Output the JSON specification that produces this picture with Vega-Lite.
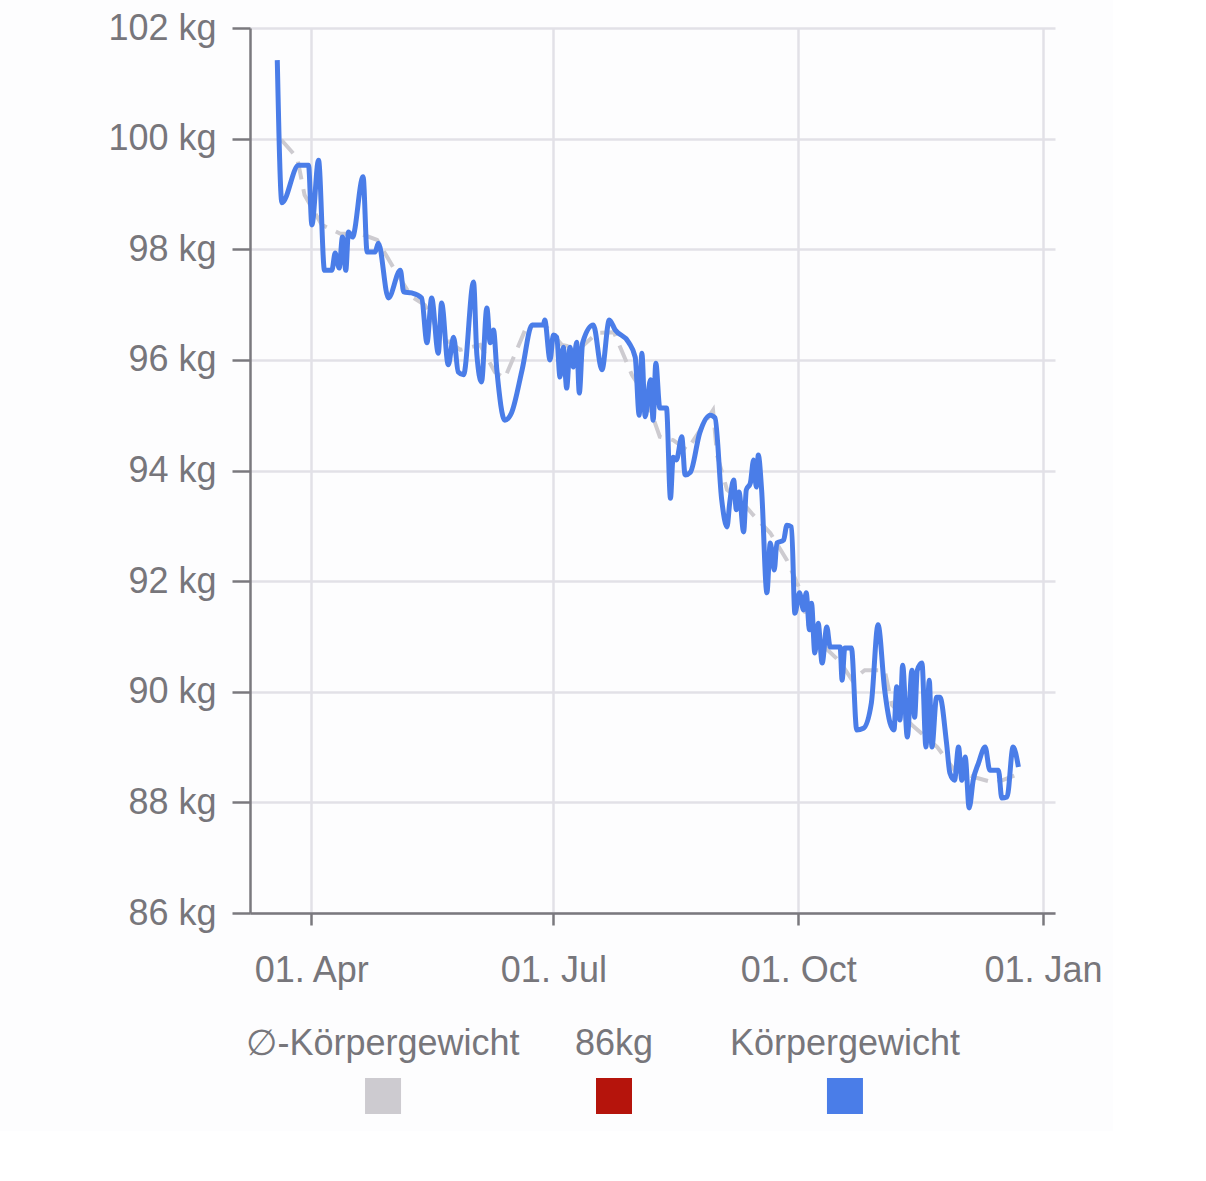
{
  "$schema": "https://vega.github.io/schema/vega-lite/v6.json",
  "background": "#fdfdfe",
  "padding": {"left": 107, "top": 10, "right": 10, "bottom": 10},
  "config": {
    "font": "Liberation Sans",
    "view": {"stroke": null},
    "axis": {
      "title": null,
      "labelFontSize": 36,
      "labelColor": "#77767b",
      "tickColor": "#7a797e",
      "tickWidth": 2.5,
      "domainColor": "#7a797e",
      "domainWidth": 2.5,
      "grid": true,
      "gridColor": "#e2e1e7",
      "gridWidth": 2.5
    }
  },
  "datasets": {
    "weight": [
      {"date": "2023-03-19T06:00", "kg": 101.42},
      {"date": "2023-03-21T00:00", "kg": 98.84},
      {"date": "2023-03-27T06:00", "kg": 99.52},
      {"date": "2023-03-31T00:00", "kg": 99.52},
      {"date": "2023-04-01T06:00", "kg": 98.44},
      {"date": "2023-04-03T18:00", "kg": 99.61},
      {"date": "2023-04-06T00:00", "kg": 97.62},
      {"date": "2023-04-08T18:00", "kg": 97.62},
      {"date": "2023-04-10T00:00", "kg": 97.93},
      {"date": "2023-04-11T12:00", "kg": 97.66},
      {"date": "2023-04-12T18:00", "kg": 98.22},
      {"date": "2023-04-14T00:00", "kg": 97.62},
      {"date": "2023-04-15T00:00", "kg": 98.31},
      {"date": "2023-04-16T12:00", "kg": 98.22},
      {"date": "2023-04-20T12:00", "kg": 99.31},
      {"date": "2023-04-22T00:00", "kg": 97.95},
      {"date": "2023-04-25T00:00", "kg": 97.95},
      {"date": "2023-04-26T06:00", "kg": 98.11},
      {"date": "2023-04-30T00:00", "kg": 97.12},
      {"date": "2023-05-04T12:00", "kg": 97.62},
      {"date": "2023-05-05T18:00", "kg": 97.23},
      {"date": "2023-05-08T18:00", "kg": 97.21},
      {"date": "2023-05-12T12:00", "kg": 97.12},
      {"date": "2023-05-14T12:00", "kg": 96.31},
      {"date": "2023-05-16T06:00", "kg": 97.12},
      {"date": "2023-05-18T18:00", "kg": 96.12},
      {"date": "2023-05-20T00:00", "kg": 97.03},
      {"date": "2023-05-22T12:00", "kg": 95.91},
      {"date": "2023-05-24T12:00", "kg": 96.41},
      {"date": "2023-05-26T06:00", "kg": 95.78},
      {"date": "2023-05-28T06:00", "kg": 95.73},
      {"date": "2023-06-01T00:00", "kg": 97.41},
      {"date": "2023-06-02T06:00", "kg": 96.09},
      {"date": "2023-06-04T00:00", "kg": 95.6},
      {"date": "2023-06-06T00:00", "kg": 96.94},
      {"date": "2023-06-07T06:00", "kg": 96.31},
      {"date": "2023-06-08T12:00", "kg": 96.54},
      {"date": "2023-06-09T18:00", "kg": 95.82},
      {"date": "2023-06-12T18:00", "kg": 94.91},
      {"date": "2023-06-15T06:00", "kg": 95.04},
      {"date": "2023-06-19T06:00", "kg": 95.82},
      {"date": "2023-06-23T00:00", "kg": 96.63},
      {"date": "2023-06-27T06:00", "kg": 96.63},
      {"date": "2023-06-27T18:00", "kg": 96.72},
      {"date": "2023-06-29T18:00", "kg": 96.0},
      {"date": "2023-07-01T00:00", "kg": 96.45},
      {"date": "2023-07-02T06:00", "kg": 96.41},
      {"date": "2023-07-03T12:00", "kg": 95.69},
      {"date": "2023-07-04T18:00", "kg": 96.23},
      {"date": "2023-07-06T00:00", "kg": 95.49},
      {"date": "2023-07-07T06:00", "kg": 96.23},
      {"date": "2023-07-08T12:00", "kg": 95.87},
      {"date": "2023-07-09T18:00", "kg": 96.32},
      {"date": "2023-07-10T18:00", "kg": 95.4},
      {"date": "2023-07-12T00:00", "kg": 96.31},
      {"date": "2023-07-16T00:00", "kg": 96.63},
      {"date": "2023-07-19T06:00", "kg": 95.82},
      {"date": "2023-07-22T00:00", "kg": 96.72},
      {"date": "2023-07-24T06:00", "kg": 96.54},
      {"date": "2023-07-29T06:00", "kg": 96.32},
      {"date": "2023-07-31T18:00", "kg": 96.05},
      {"date": "2023-08-02T06:00", "kg": 95.0},
      {"date": "2023-08-03T06:00", "kg": 96.12},
      {"date": "2023-08-04T12:00", "kg": 94.97},
      {"date": "2023-08-06T12:00", "kg": 95.64},
      {"date": "2023-08-07T12:00", "kg": 94.91},
      {"date": "2023-08-08T12:00", "kg": 95.94},
      {"date": "2023-08-10T00:00", "kg": 95.13},
      {"date": "2023-08-12T12:00", "kg": 95.13},
      {"date": "2023-08-14T00:00", "kg": 93.5},
      {"date": "2023-08-15T00:00", "kg": 94.24},
      {"date": "2023-08-16T06:00", "kg": 94.19},
      {"date": "2023-08-18T06:00", "kg": 94.61},
      {"date": "2023-08-19T12:00", "kg": 93.92},
      {"date": "2023-08-21T12:00", "kg": 93.97},
      {"date": "2023-08-25T00:00", "kg": 94.68},
      {"date": "2023-08-29T00:00", "kg": 95.0},
      {"date": "2023-08-30T18:00", "kg": 94.95},
      {"date": "2023-09-02T06:00", "kg": 93.47},
      {"date": "2023-09-04T06:00", "kg": 92.98},
      {"date": "2023-09-05T06:00", "kg": 93.41},
      {"date": "2023-09-06T18:00", "kg": 93.83},
      {"date": "2023-09-07T18:00", "kg": 93.29},
      {"date": "2023-09-08T18:00", "kg": 93.61},
      {"date": "2023-09-10T12:00", "kg": 92.89},
      {"date": "2023-09-11T12:00", "kg": 93.65},
      {"date": "2023-09-13T00:00", "kg": 93.77},
      {"date": "2023-09-14T06:00", "kg": 94.19},
      {"date": "2023-09-15T06:00", "kg": 93.7},
      {"date": "2023-09-16T00:00", "kg": 94.28},
      {"date": "2023-09-17T06:00", "kg": 93.65},
      {"date": "2023-09-19T06:00", "kg": 91.79},
      {"date": "2023-09-20T12:00", "kg": 92.69},
      {"date": "2023-09-22T00:00", "kg": 92.2},
      {"date": "2023-09-23T00:00", "kg": 92.69},
      {"date": "2023-09-25T12:00", "kg": 92.74},
      {"date": "2023-09-26T18:00", "kg": 93.01},
      {"date": "2023-09-28T12:00", "kg": 92.98},
      {"date": "2023-09-29T18:00", "kg": 91.42},
      {"date": "2023-10-01T12:00", "kg": 91.79},
      {"date": "2023-10-03T00:00", "kg": 91.48},
      {"date": "2023-10-04T00:00", "kg": 91.79},
      {"date": "2023-10-05T06:00", "kg": 91.12},
      {"date": "2023-10-06T00:00", "kg": 91.6},
      {"date": "2023-10-07T06:00", "kg": 90.7},
      {"date": "2023-10-08T12:00", "kg": 91.24},
      {"date": "2023-10-10T00:00", "kg": 90.52},
      {"date": "2023-10-11T18:00", "kg": 91.17},
      {"date": "2023-10-13T00:00", "kg": 90.81},
      {"date": "2023-10-16T18:00", "kg": 90.81},
      {"date": "2023-10-17T12:00", "kg": 90.21},
      {"date": "2023-10-18T12:00", "kg": 90.79},
      {"date": "2023-10-21T00:00", "kg": 90.79},
      {"date": "2023-10-23T00:00", "kg": 89.31},
      {"date": "2023-10-25T12:00", "kg": 89.34},
      {"date": "2023-10-28T12:00", "kg": 89.8},
      {"date": "2023-10-31T00:00", "kg": 91.21},
      {"date": "2023-11-02T12:00", "kg": 90.03},
      {"date": "2023-11-04T12:00", "kg": 89.44},
      {"date": "2023-11-06T00:00", "kg": 89.31},
      {"date": "2023-11-07T00:00", "kg": 90.09},
      {"date": "2023-11-08T06:00", "kg": 89.49},
      {"date": "2023-11-09T06:00", "kg": 90.48},
      {"date": "2023-11-11T00:00", "kg": 89.18},
      {"date": "2023-11-12T18:00", "kg": 90.39},
      {"date": "2023-11-13T18:00", "kg": 89.54},
      {"date": "2023-11-14T18:00", "kg": 90.39},
      {"date": "2023-11-16T12:00", "kg": 90.52},
      {"date": "2023-11-18T00:00", "kg": 89.0},
      {"date": "2023-11-19T06:00", "kg": 90.21},
      {"date": "2023-11-20T06:00", "kg": 89.0},
      {"date": "2023-11-22T00:00", "kg": 89.9},
      {"date": "2023-11-23T06:00", "kg": 89.9},
      {"date": "2023-11-25T18:00", "kg": 89.07},
      {"date": "2023-11-27T00:00", "kg": 88.53},
      {"date": "2023-11-28T18:00", "kg": 88.4},
      {"date": "2023-11-30T06:00", "kg": 89.0},
      {"date": "2023-12-01T12:00", "kg": 88.4},
      {"date": "2023-12-02T18:00", "kg": 88.82},
      {"date": "2023-12-04T06:00", "kg": 87.9},
      {"date": "2023-12-05T18:00", "kg": 88.4},
      {"date": "2023-12-07T18:00", "kg": 88.71},
      {"date": "2023-12-10T06:00", "kg": 89.0},
      {"date": "2023-12-12T00:00", "kg": 88.58},
      {"date": "2023-12-15T06:00", "kg": 88.58},
      {"date": "2023-12-16T12:00", "kg": 88.08},
      {"date": "2023-12-18T12:00", "kg": 88.1},
      {"date": "2023-12-20T18:00", "kg": 89.0},
      {"date": "2023-12-22T18:00", "kg": 88.64}
    ],
    "avg": [
      {"date": "2023-03-20T18:00", "kg": 99.98},
      {"date": "2023-03-26T18:00", "kg": 99.65},
      {"date": "2023-03-29T12:00", "kg": 98.98},
      {"date": "2023-04-05T00:00", "kg": 98.44},
      {"date": "2023-04-12T00:00", "kg": 98.28},
      {"date": "2023-04-19T12:00", "kg": 98.28},
      {"date": "2023-04-25T18:00", "kg": 98.17},
      {"date": "2023-05-02T12:00", "kg": 97.62},
      {"date": "2023-05-08T18:00", "kg": 97.14},
      {"date": "2023-05-13T18:00", "kg": 96.99},
      {"date": "2023-05-19T12:00", "kg": 96.45},
      {"date": "2023-05-27T00:00", "kg": 96.18},
      {"date": "2023-06-03T12:00", "kg": 96.27},
      {"date": "2023-06-09T00:00", "kg": 95.78},
      {"date": "2023-06-12T18:00", "kg": 95.67},
      {"date": "2023-06-21T00:00", "kg": 96.61},
      {"date": "2023-06-27T18:00", "kg": 96.63},
      {"date": "2023-07-04T06:00", "kg": 96.27},
      {"date": "2023-07-11T00:00", "kg": 96.21},
      {"date": "2023-07-17T12:00", "kg": 96.49},
      {"date": "2023-07-23T18:00", "kg": 96.5},
      {"date": "2023-07-30T12:00", "kg": 95.73},
      {"date": "2023-08-04T12:00", "kg": 95.36},
      {"date": "2023-08-10T00:00", "kg": 94.61},
      {"date": "2023-08-15T00:00", "kg": 94.55},
      {"date": "2023-08-20T06:00", "kg": 94.37},
      {"date": "2023-08-30T00:00", "kg": 95.09},
      {"date": "2023-08-31T12:00", "kg": 94.28},
      {"date": "2023-09-04T06:00", "kg": 93.65},
      {"date": "2023-09-09T06:00", "kg": 93.47},
      {"date": "2023-09-14T00:00", "kg": 93.2},
      {"date": "2023-09-20T12:00", "kg": 92.87},
      {"date": "2023-09-26T18:00", "kg": 92.38},
      {"date": "2023-10-01T18:00", "kg": 91.84},
      {"date": "2023-10-04T18:00", "kg": 91.21},
      {"date": "2023-10-10T00:00", "kg": 90.85},
      {"date": "2023-10-16T18:00", "kg": 90.54},
      {"date": "2023-10-21T06:00", "kg": 90.21},
      {"date": "2023-10-26T00:00", "kg": 90.39},
      {"date": "2023-11-02T12:00", "kg": 90.39},
      {"date": "2023-11-05T06:00", "kg": 89.76},
      {"date": "2023-11-12T18:00", "kg": 89.4},
      {"date": "2023-11-22T06:00", "kg": 89.0},
      {"date": "2023-11-28T18:00", "kg": 88.58},
      {"date": "2023-12-07T06:00", "kg": 88.44},
      {"date": "2023-12-14T00:00", "kg": 88.35},
      {"date": "2023-12-21T12:00", "kg": 88.49}
    ],
    "legend": [
      {"series": "∅-Körpergewicht"},
      {"series": "86kg"},
      {"series": "Körpergewicht"}
    ]
  },
  "spacing": 33,
  "vconcat": [
    {
      "width": 805,
      "height": 885,
      "encoding": {
        "x": {
          "field": "date",
          "type": "temporal",
          "scale": {
            "domain": [
              {"year": 2023, "month": 3, "date": 9},
              {"year": 2024, "month": 1, "date": 5, "hours": 12}
            ],
            "nice": false
          },
          "axis": {
            "values": [
              {"year": 2023, "month": 4, "date": 1},
              {"year": 2023, "month": 7, "date": 1},
              {"year": 2023, "month": 10, "date": 1},
              {"year": 2024, "month": 1, "date": 1}
            ],
            "format": "%d. %b",
            "labelFlush": false,
            "labelPadding": 28,
            "tickSize": 12
          }
        },
        "y": {
          "field": "kg",
          "type": "quantitative",
          "scale": {"domain": [86, 102], "nice": false, "zero": false},
          "axis": {
            "values": [86, 88, 90, 92, 94, 96, 98, 100, 102],
            "labelExpr": "datum.value + ' kg'",
            "labelPadding": 16,
            "tickSize": 18
          }
        }
      },
      "layer": [
        {
          "data": {"name": "avg"},
          "mark": {"type": "line", "strokeWidth": 4, "strokeDash": [18, 10]},
          "encoding": {
            "color": {
              "datum": "∅-Körpergewicht",
              "type": "nominal",
              "scale": {
                "domain": ["∅-Körpergewicht", "86kg", "Körpergewicht"],
                "range": ["#cdcbd0", "#b5140c", "#4a7de8"]
              },
              "legend": null
            }
          }
        },
        {
          "data": {"name": "weight"},
          "mark": {"type": "line", "strokeWidth": 5, "interpolate": "monotone"},
          "encoding": {
            "color": {"datum": "Körpergewicht", "type": "nominal", "legend": null}
          }
        }
      ]
    },
    {
      "width": 728,
      "height": 100,
      "data": {"name": "legend"},
      "encoding": {
        "x": {
          "field": "series",
          "type": "nominal",
          "sort": null,
          "scale": {"type": "point", "padding": 0.576},
          "axis": null
        }
      },
      "layer": [
        {
          "mark": {"type": "text", "fontSize": 36, "color": "#77767b", "baseline": "middle", "dy": -27},
          "encoding": {"text": {"field": "series"}}
        },
        {
          "mark": {"type": "square", "size": 1296, "opacity": 1, "filled": true, "yOffset": 25},
          "encoding": {
            "color": {"field": "series", "type": "nominal", "legend": null}
          }
        }
      ]
    }
  ],
  "resolve": {"scale": {"x": "independent"}}
}
